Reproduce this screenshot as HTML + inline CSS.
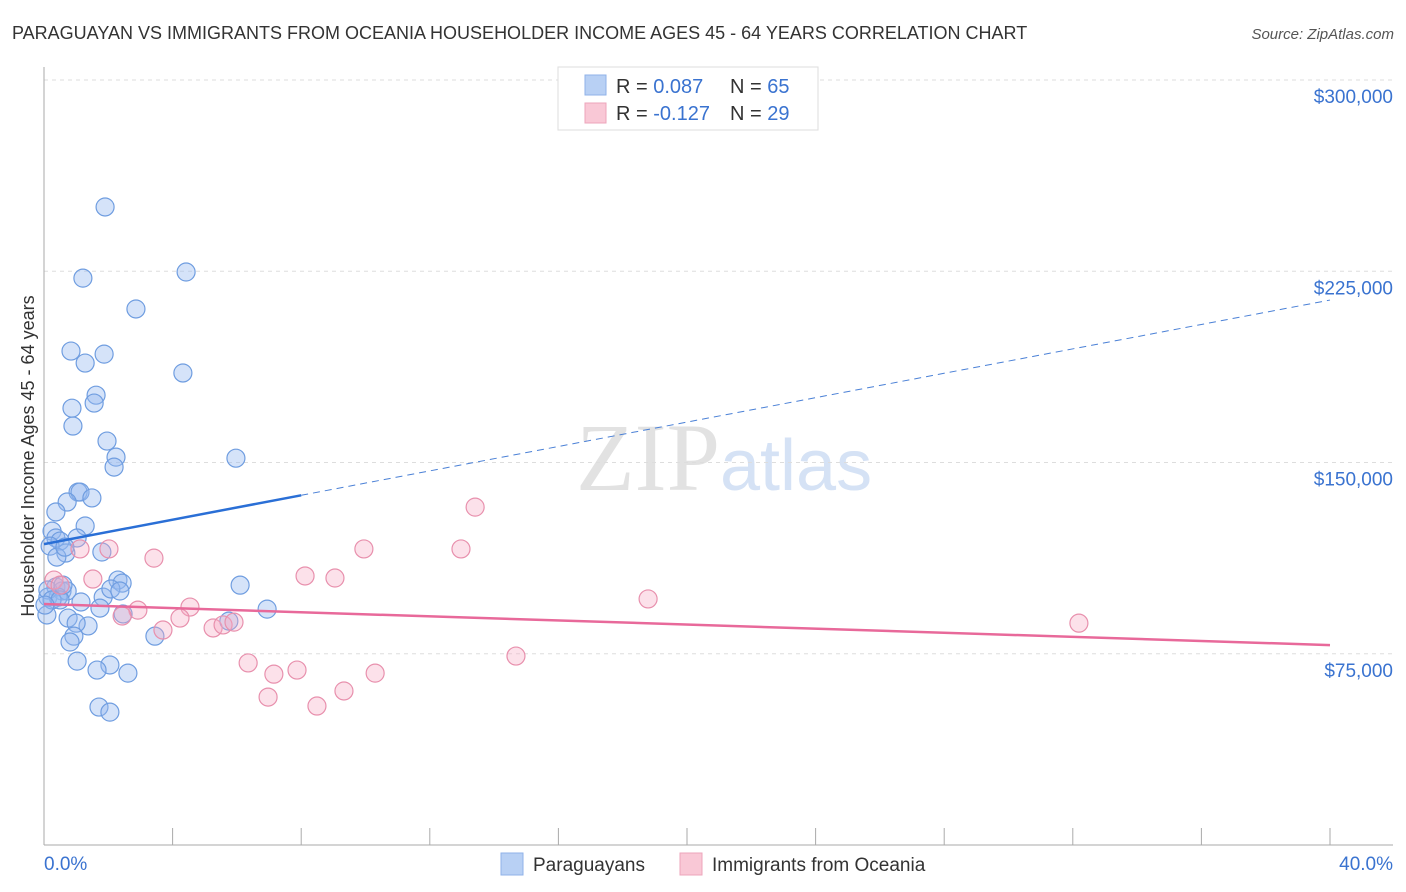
<!DOCTYPE html>
<html><head><meta charset="utf-8"><style>
body{margin:0;background:#fff;font-family:"Liberation Sans",sans-serif;}
svg{display:block}
</style></head><body>
<svg id="chart" width="1406" height="892" viewBox="0 0 1406 892" xmlns="http://www.w3.org/2000/svg">
<text x="12" y="39" font-size="18" fill="#333">PARAGUAYAN VS IMMIGRANTS FROM OCEANIA HOUSEHOLDER INCOME AGES 45 - 64 YEARS CORRELATION CHART</text>
<text x="1394" y="39" font-size="15" fill="#555" font-style="italic" text-anchor="end">Source: ZipAtlas.com</text>
<text x="720" y="490" font-size="96" fill="#e2e2e2" text-anchor="end" font-family="Liberation Serif,serif">ZIP</text>
<text x="720" y="490" font-size="72" fill="#d5e2f5">atlas</text>
<g id="grid"></g>
<g id="axes"></g>
<g id="pts"></g>
<g id="trend"></g>
<text transform="translate(34,456) rotate(-90)" font-size="18" fill="#333" text-anchor="middle">Householder Income Ages 45 - 64 years</text>
<g>
<rect x="558" y="67" width="260" height="63" fill="#fff" stroke="#ddd"/>
<rect x="585" y="75" width="21" height="20" fill="#b8d0f4" stroke="#8fb2e8"/>
<rect x="585" y="103" width="21" height="20" fill="#f9c8d6" stroke="#eda5bb"/>
<text x="616" y="93" font-size="20" fill="#333">R = <tspan fill="#3a73d0">0.087</tspan></text>
<text x="730" y="93" font-size="20" fill="#333">N = <tspan fill="#3a73d0">65</tspan></text>
<text x="616" y="120" font-size="20" fill="#333">R = <tspan fill="#3a73d0">-0.127</tspan></text>
<text x="730" y="120" font-size="20" fill="#333">N = <tspan fill="#3a73d0">29</tspan></text>
</g>
<g>
<rect x="501" y="853" width="22" height="22" fill="#b8d0f4" stroke="#8fb2e8"/>
<text x="533" y="871" font-size="19" fill="#333">Paraguayans</text>
<rect x="680" y="853" width="22" height="22" fill="#f9c8d6" stroke="#eda5bb"/>
<text x="712" y="871" font-size="19" fill="#333">Immigrants from Oceania</text>
</g>
</svg>
<script>
const xTickLabels=["0.0%","40.0%"];
const yTickValues=[75000,150000,225000,300000];
const yTickLabels=["$75,000","$150,000","$225,000","$300,000"];
const blueX=[1.90,1.21,4.42,2.86,0.84,1.87,1.28,4.32,1.62,1.56,0.87,0.90,1.96,2.24,2.18,5.97,1.06,1.12,1.49,0.72,0.37,1.28,0.25,1.03,0.37,0.50,0.19,0.68,0.40,1.80,0.65,1.84,2.30,2.43,2.08,2.36,0.37,0.56,0.72,0.12,0.44,1.15,1.74,2.46,0.09,0.75,1.37,1.00,6.10,6.94,5.75,3.45,0.93,0.81,1.03,2.05,1.65,2.61,1.71,2.05,0.12,0.25,0.50,0.59,0.03];
const blueY=[250.2,222.3,224.7,210.2,193.7,192.5,189.0,185.1,176.4,173.3,171.3,164.3,158.4,152.1,148.2,151.7,138.4,138.4,136.1,134.5,130.6,125.1,123.1,120.4,120.4,119.2,117.2,114.5,112.9,114.9,116.8,97.2,103.9,102.7,100.4,99.6,101.2,99.6,99.6,97.2,97.2,95.3,92.9,90.6,90.2,89.0,85.9,87.0,101.9,92.5,87.8,81.9,81.9,79.6,72.1,70.6,68.6,67.4,54.1,52.1,100.0,96.1,96.1,101.9,94.1];
const pinkX=[13.41,12.97,9.95,2.02,1.12,3.42,1.52,8.12,9.05,0.31,0.50,18.79,2.92,4.54,2.43,4.23,5.26,5.57,5.91,3.70,32.19,14.68,6.35,7.87,10.30,7.15,9.33,6.97,8.49];
const pinkY=[132.5,116.1,116.1,116.1,116.1,112.5,104.3,105.5,104.7,103.9,101.9,96.5,92.1,93.3,89.8,89.0,85.1,86.3,87.4,84.3,87.0,74.1,71.4,68.6,67.4,67.0,60.4,58.0,54.5];
const blueTrend=[118.0,213.7];
const pinkTrend=[94.5,78.4];
const NS="http://www.w3.org/2000/svg";
const X=p=>44+p*(1286/40);
const Y=v=>845-v*(765/300000);
function mk(tag,attrs,parent){const e=document.createElementNS(NS,tag);for(const k in attrs)e.setAttribute(k,attrs[k]);parent.appendChild(e);return e;}
const grid=document.getElementById('grid'),axes=document.getElementById('axes'),pts=document.getElementById('pts'),trend=document.getElementById('trend');
yTickValues.forEach((v,i)=>{
 const l=mk('line',{x1:44,x2:1393,y1:Y(v),y2:Y(v),stroke:'#ddd','stroke-dasharray':'4,4'},grid);
 
 
 const t=mk('text',{x:1393,y:Y(v)+23,'font-size':19,fill:'#3a73d0','text-anchor':'end'},axes);
 t.textContent=yTickLabels[i];
 
 
});
const yl=mk('line',{x1:44,x2:44,y1:67,y2:845,stroke:'#aaa'},axes);


const xl=mk('line',{x1:44,x2:1393,y1:845,y2:845,stroke:'#aaa'},axes);


for(let i=0;i<=10;i++){
 const tk=mk('line',{x1:X(i*4),x2:X(i*4),y1:828,y2:845,stroke:'#aaa'},axes);
 
 
}
const xt0=mk('text',{x:44,y:870,'font-size':19,fill:'#3a73d0'},axes);
xt0.textContent=xTickLabels[0];


const xt1=mk('text',{x:1393,y:870,'font-size':19,fill:'#3a73d0','text-anchor':'end'},axes);
xt1.textContent=xTickLabels[1];


blueX.forEach((p,i)=>{
 const c=mk('circle',{cx:X(p),cy:Y(blueY[i]*1000),r:9,fill:'rgba(150,185,240,0.4)',stroke:'#6f9de0','stroke-width':1.2},pts);
 
 
});
pinkX.forEach((p,i)=>{
 const c=mk('circle',{cx:X(p),cy:Y(pinkY[i]*1000),r:9,fill:'rgba(245,170,195,0.35)',stroke:'#e890ad','stroke-width':1.2},pts);
 
 
});
const bAt=p=>blueTrend[0]+(blueTrend[1]-blueTrend[0])*p/40;
const b1=mk('line',{x1:X(0),y1:Y(bAt(0)*1000),x2:X(8),y2:Y(bAt(8)*1000),stroke:'#2a6fd6','stroke-width':2.5},trend);


const b2=mk('line',{x1:X(8),y1:Y(bAt(8)*1000),x2:X(40),y2:Y(bAt(40)*1000),stroke:'#4a80d6','stroke-width':1,'stroke-dasharray':'7,5'},trend);


const p1=mk('line',{x1:X(0),y1:Y(pinkTrend[0]*1000),x2:X(40),y2:Y(pinkTrend[1]*1000),stroke:'#e8699a','stroke-width':2.5},trend);


</script>
</body></html>
